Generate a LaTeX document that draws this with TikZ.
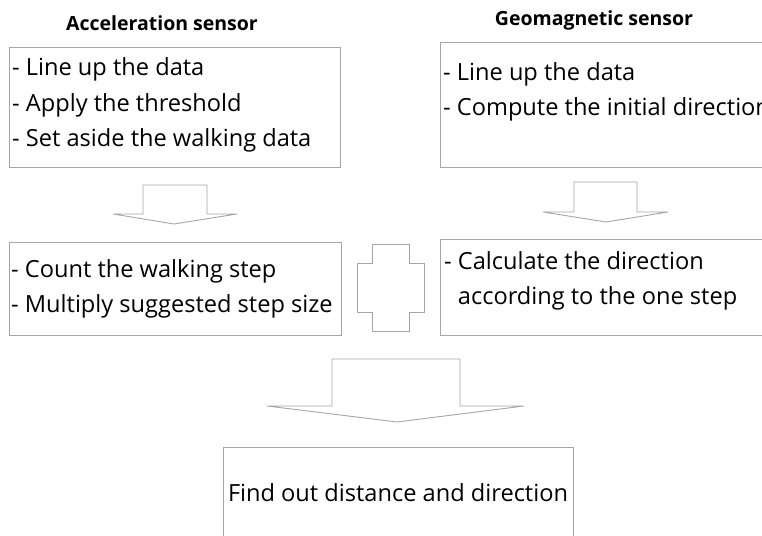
\documentclass[tikz,border=0pt]{standalone}
\usepackage{fontspec}
\setmainfont{Open Sans}
\usepackage{tikz}

\begin{document}
\begin{tikzpicture}[x=1pt,y=1pt]
\tikzstyle{every node}=[inner sep=0pt]
\tikzstyle{box}=[draw=black!35, line width=0.9pt, anchor=north west]
\tikzstyle{bigarrow}=[draw=black!35, line width=0.9pt, fill=white]
\tikzstyle{txt}=[font=\fontsize{23.6}{35.5}\selectfont, align=left, anchor=west]
\tikzstyle{title}=[font=\fontsize{19.5}{24}\selectfont\bfseries]

\useasboundingbox (0,0) rectangle (762,535);
\clip (0,0) rectangle (762,535);

% Titles
\node[title] (acctitle) at (162,512) {Acceleration sensor};
\node[title] (geotitle) at (594,515) {Geomagnetic sensor};

% Draw boxes
\node[box, minimum width=331, minimum height=120] (accbox) at (9,488) {};
\node[box, minimum width=360, minimum height=125] (geobox) at (440,493) {};
\node[box, minimum width=332, minimum height=93] (stepbox) at (9,293) {};
\node[box, minimum width=360, minimum height=96] (dirbox) at (440,296) {};
\node[box, minimum width=350, minimum height=113] (resultbox) at (223,88) {};

% Box texts
\node[txt] (acctext) at (12,430) {- Line up the data\\- Apply the threshold\\- Set aside the walking data};
\node[txt] (geotext) at (443,443) {- Line up the data\\- Compute the initial direction};
\node[txt] (steptext) at (11,246) {- Count the walking step\\- Multiply suggested step size};
\node[txt] (dirtext) at (444,254) {- Calculate the direction\\\phantom{- }according to the one step};
\node[txt, anchor=center] (resulttext) at (398,42) {Find out distance and direction};

% Draw block arrows
\draw[bigarrow] (143,350) -- (207,350) -- (207,321) -- (237,321) -- (174,311)
  -- (113,321) -- (143,321) -- cycle;
\draw[bigarrow] (574,353) -- (637,353) -- (637,323) -- (668,323) -- (606,313)
  -- (543,323) -- (574,323) -- cycle;
\draw[bigarrow] (332,176) -- (460,176) -- (460,129) -- (524,129) -- (397,113)
  -- (267,129) -- (332,129) -- cycle;

% Draw plus sign
\draw[bigarrow] (372,291) -- (409,291) -- (409,272) -- (424,272) -- (424,223)
  -- (409,223) -- (409,204) -- (372,204) -- (372,223) -- (357,223)
  -- (357,272) -- (372,272) -- cycle;

\end{tikzpicture}
\end{document}
